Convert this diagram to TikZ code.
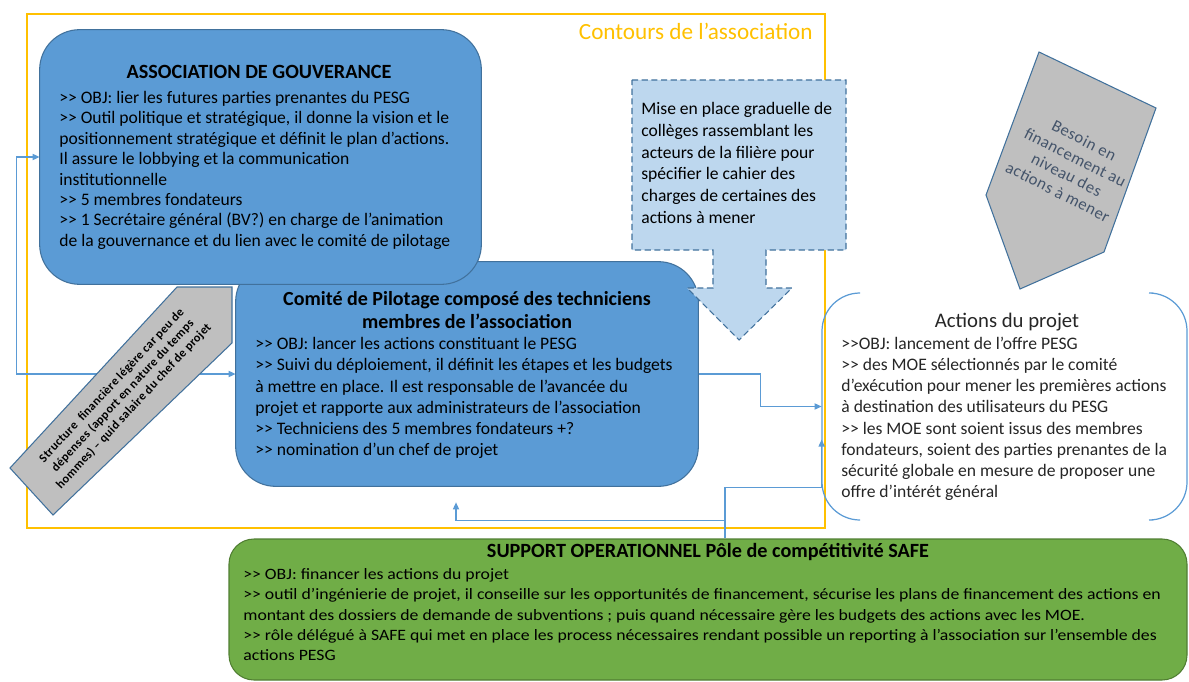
\documentclass[tikz,border=0pt]{standalone}
\usepackage{fontspec}
\setmainfont{Carlito}
\newfontfamily\safefont[Ligatures=TeX, FakeStretch=1.12]{Carlito}
\usetikzlibrary{arrows.meta,fit,calc}

\definecolor{boxblue}{HTML}{5B9BD5}
\definecolor{boxline}{HTML}{41719C}
\definecolor{linkblue}{HTML}{5B9BD5}
\definecolor{calloutblue}{HTML}{BDD7EE}
\definecolor{contour}{HTML}{FFC000}
\definecolor{safegreen}{HTML}{70AD47}
\definecolor{safeline}{HTML}{507E32}
\definecolor{grayfill}{HTML}{BFBFBF}
\definecolor{besointext}{HTML}{44546A}
\definecolor{actiontext}{HTML}{262626}

\newcommand{\gtgt}{>\kern0pt>}

\tikzset{
  govbox/.style={draw=boxline, fill=boxblue, line width=0.6pt, rounded corners=0.8cm, inner sep=0pt},
  safebox/.style={draw=safeline, fill=safegreen, line width=0.6pt, rounded corners=0.5cm, inner sep=0pt},
  boxtitle/.style={font=\bfseries\fontsize{11.5}{13}\selectfont, inner sep=0pt},
  boxtext/.style={font=\fontsize{10}{11.6}\selectfont, align=left, anchor=north west, inner sep=0pt},
  link/.style={draw=linkblue, line width=0.7pt, -{Triangle[length=4pt,width=3.5pt]}},
  grayshape/.style={draw=boxline, fill=grayfill, line width=0.6pt},
}

\begin{document}
\begin{tikzpicture}[x=0.02cm, y=-0.02cm]

  \useasboundingbox (0,0) rectangle (1189,682);

  \draw[contour, line width=0.9pt] (27,14) rectangle (825,528);
  \node[anchor=east, inner sep=0pt, text=contour, font=\fontsize{13.2}{15}\selectfont] (contours) at (813,31) {Contours de l'association};

  \node[fit={(236,262) (698,486)}, inner sep=0pt] (comite) {};
  \node[fit={(229,539) (1187,680)}, safebox] (safe) {};
  \node[fit={(822,293) (1187,520)}, inner sep=0pt] (actions) {};
  \node[fit={(40,30) (481,284)}, inner sep=0pt] (assoc) {};

  \draw[link, <->, >={Triangle[length=4pt,width=3.5pt]}] (assoc.west) -- ++(-23,0) |- (comite.west);
  \draw[link] (comite.east) -- ++(62,0) |- (actions.west);
  \draw[link] ($(safe.north)+(17,0)$) -- ++(0,-18) -| ($(comite.south)+(-11,16)$);
  \draw[link] ($(safe.north)+(17,0)$) -- ++(0,-51) -| ($(actions.west)+(0,33)$);

  \draw[grayshape] (10,468) -- (177,287) -- (232,287) -- (232,343) -- (53,515) -- cycle;
  \node[rotate=47, align=center, inner sep=0pt, font=\bfseries\fontsize{7}{8.6}\selectfont\addfontfeature{LetterSpace=3}] (structure) at (123,396)
    {Structure \ financière légère car peu de\\dépenses (apport en nature du temps\\hommes) -- quid salaire du chef de projet};

  \draw[govbox] (comite.north west) rectangle (comite.south east);
  \draw[govbox] (assoc.north west) rectangle (assoc.south east);

  \node[boxtitle] (assoctitle) at (259,72) {ASSOCIATION DE GOUVERANCE};
  \node[boxtext] (assoctxt) at (59,91)
    {\gtgt{} OBJ: lier les futures parties prenantes du PESG\\
     \gtgt{} Outil politique et stratégique, il donne la vision et le\\
     positionnement stratégique et définit le plan d'actions.\\
     Il assure le lobbying et la communication\\
     institutionnelle\\
     \gtgt{} 5 membres fondateurs\\
     \gtgt{} 1 Secrétaire général (BV?) en charge de l'animation\\
     de la gouvernance et du lien avec le comité de pilotage};

  \node[boxtitle, align=center, font=\bfseries\fontsize{11.4}{13.2}\selectfont] (comitetitle) at (467,310)
    {Comité de Pilotage composé des techniciens\\membres de l'association};
  \node[boxtext, font=\fontsize{10}{12.1}\selectfont] (comitetxt) at (255,337)
    {\gtgt{} OBJ: lancer les actions constituant le PESG\\
     \gtgt{} Suivi du déploiement, il définit les étapes et les budgets\\
     à mettre en place. Il est responsable de l'avancée du\\
     projet et rapporte aux administrateurs de l'association\\
     \gtgt{} Techniciens des 5 membres fondateurs +?\\
     \gtgt{} nomination d'un chef de projet};

  \draw[draw=boxline, fill=calloutblue, line width=0.6pt, dash pattern=on 3.5pt off 2pt]
    (632,80) -- (846,80) -- (846,250) -- (766,250) -- (766,288) -- (792,288) -- (739,340)
    -- (687,288) -- (713,288) -- (713,250) -- (632,250) -- cycle;
  \node[boxtext, font=\fontsize{10}{12.4}\selectfont] (collegetxt) at (641,102)
    {Mise en place graduelle de\\
     collèges rassemblant les\\
     acteurs de la filière pour\\
     spécifier le cahier des\\
     charges de certaines des\\
     actions à mener};

  \draw[grayshape] (1039,52) -- (1156,108) -- (1104,252) -- (1020,289) -- (986,195) -- cycle;
  \node[rotate=-27, align=center, inner sep=0pt, text=besointext, font=\fontsize{9.5}{11}\selectfont\addfontfeature{LetterSpace=3}] (besoin) at (1071,166)
    {Besoin en\\financement au\\niveau des\\actions à mener};

  \draw[linkblue, line width=0.7pt, rounded corners=0.76cm] (860,293) -- (822,293) -- (822,520) -- (860,520);
  \draw[linkblue, line width=0.7pt, rounded corners=0.76cm] (1153,293) -- (1187,293) -- (1187,520) -- (1153,520);
  \node[inner sep=0pt, text=actiontext, font=\fontsize{11.8}{13}\selectfont] (actionstitle) at (1007,322) {Actions du projet};
  \node[boxtext, text=actiontext, font=\fontsize{10}{12}\selectfont] (actionstxt) at (841,337)
    {\gtgt{}OBJ: lancement de l'offre PESG\\
     \gtgt{} des MOE sélectionnés par le comité\\
     d'exécution pour mener les premières actions\\
     à destination des utilisateurs du PESG\\
     \gtgt{} les MOE sont soient issus des membres\\
     fondateurs, soient des parties prenantes de la\\
     sécurité globale en mesure de proposer une\\
     offre d'intérét général};

  \node[boxtitle] (safetitle) at (708,552) {SUPPORT OPERATIONNEL Pôle de compétitivité SAFE};
  \node[boxtext, font=\safefont\fontsize{9}{11.6}\selectfont] (safetxt) at (243,568)
    {\gtgt{} OBJ: financer les actions du projet\\
     \gtgt{} outil d'ingénierie de projet, il conseille sur les opportunités de financement, sécurise les plans de financement des actions en\\
     montant des dossiers de demande de subventions ; puis quand nécessaire gère les budgets des actions avec les MOE.\\
     \gtgt{} rôle délégué à SAFE qui met en place les process nécessaires rendant possible un reporting à l'association sur l'ensemble des\\
     actions PESG};

\end{tikzpicture}
\end{document}
